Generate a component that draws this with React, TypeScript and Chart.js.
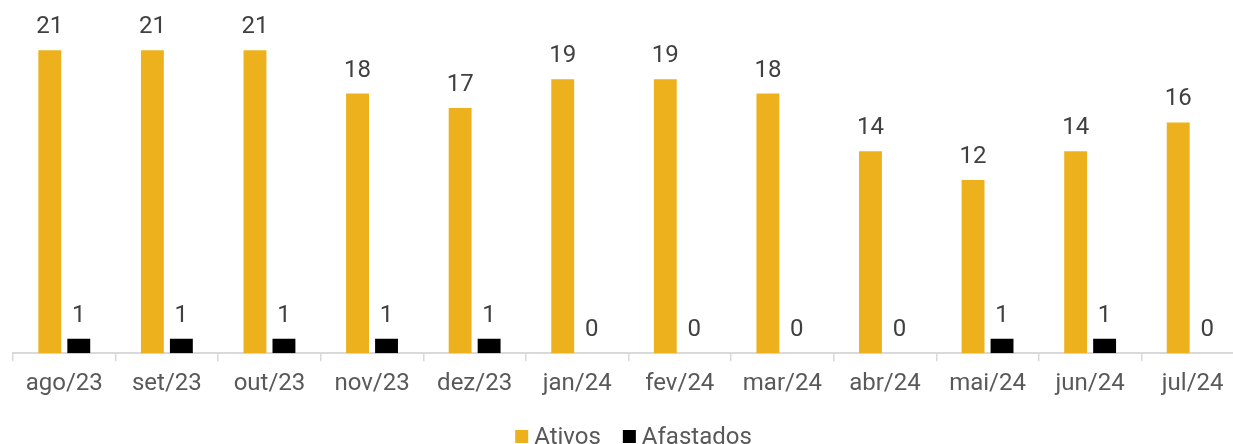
import React, { useEffect, useRef } from "react";
import { Chart, registerables } from "chart.js";

Chart.register(...registerables);

const categories = ["ago/23", "set/23", "out/23", "nov/23", "dez/23", "jan/24", "fev/24", "mar/24", "abr/24", "mai/24", "jun/24", "jul/24"];
const ativos = [21, 21, 21, 18, 17, 19, 19, 18, 14, 12, 14, 16];
const afastados = [1, 1, 1, 1, 1, 0, 0, 0, 0, 1, 1, 0];
const seriesNames = ["Ativos", "Afastados"];
const seriesColors = ["#EDB11D", "#000000"];

const FONT = "Roboto, 'Noto Sans', sans-serif";

const dataLabels = {
  id: "dataLabels",
  afterDatasetsDraw(chart: any) {
    const ctx = chart.ctx;
    ctx.save();
    ctx.font = `24px ${FONT}`;
    ctx.fillStyle = "#404040";
    ctx.textAlign = "center";
    ctx.textBaseline = "alphabetic";
    chart.data.datasets.forEach((ds: any, i: number) => {
      const meta = chart.getDatasetMeta(i);
      meta.data.forEach((bar: any, j: number) => {
        ctx.fillText(String(ds.data[j]), bar.x, bar.y - 17);
      });
    });
    ctx.restore();
  },
};

const customLegend = {
  id: "customLegend",
  afterDraw(chart: any) {
    const ctx = chart.ctx;
    ctx.save();
    ctx.font = `24px ${FONT}`;
    ctx.textBaseline = "alphabetic";
    ctx.textAlign = "left";
    const box = 13;
    const boxGap = 6;
    const itemGap = 22;
    const items = chart.data.datasets.map((ds: any) => ({
      label: ds.label,
      color: ds.backgroundColor,
      w: ctx.measureText(ds.label).width,
    }));
    const total = items.reduce((s: number, it: any) => s + box + boxGap + it.w, 0) + itemGap * (items.length - 1);
    const center = (chart.chartArea.left + chart.chartArea.right) / 2 + 5;
    let x = center - total / 2;
    const baseline = chart.height - 8;
    items.forEach((it: any) => {
      ctx.fillStyle = it.color;
      ctx.fillRect(x, baseline - 14, box, box);
      x += box + boxGap;
      ctx.fillStyle = "#595959";
      ctx.fillText(it.label, x, baseline);
      x += it.w + itemGap;
    });
    ctx.restore();
  },
};

export default function App() {
  const ref = useRef<HTMLCanvasElement>(null);
  useEffect(() => {
    if (!ref.current) return;
    const chart = new Chart(ref.current, {
      type: "bar",
      data: {
        labels: categories,
        datasets: [
          { label: seriesNames[0], data: ativos, backgroundColor: seriesColors[0], categoryPercentage: 0.565, barPercentage: 0.79 },
          { label: seriesNames[1], data: afastados, backgroundColor: seriesColors[1], categoryPercentage: 0.565, barPercentage: 0.79 },
        ],
      },
      options: {
        responsive: false,
        animation: false,
        layout: { padding: { left: 13, right: 6, top: 7, bottom: 46 } },
        plugins: {
          legend: { display: false },
          tooltip: { enabled: false },
        },
        scales: {
          x: {
            grid: { display: true, drawOnChartArea: false, drawTicks: true, tickLength: 8, color: "#D9D9D9", lineWidth: 1.5, offset: true },
            border: { display: true, color: "#D9D9D9", width: 2 },
            ticks: { color: "#595959", font: { family: FONT, size: 24 }, padding: 8, maxRotation: 0, autoSkip: false },
          },
          y: {
            display: false,
            min: 0,
            max: 24,
          },
        },
      },
      plugins: [dataLabels, customLegend],
    });
    return () => chart.destroy();
  }, []);
  return (
    <div style={{ position: "fixed", left: 0, top: 0, width: 1233, height: 444, overflow: "hidden", background: "#fff" }}>
      <canvas ref={ref} width={1250} height={452} style={{ display: "block" }} />
    </div>
  );
}
